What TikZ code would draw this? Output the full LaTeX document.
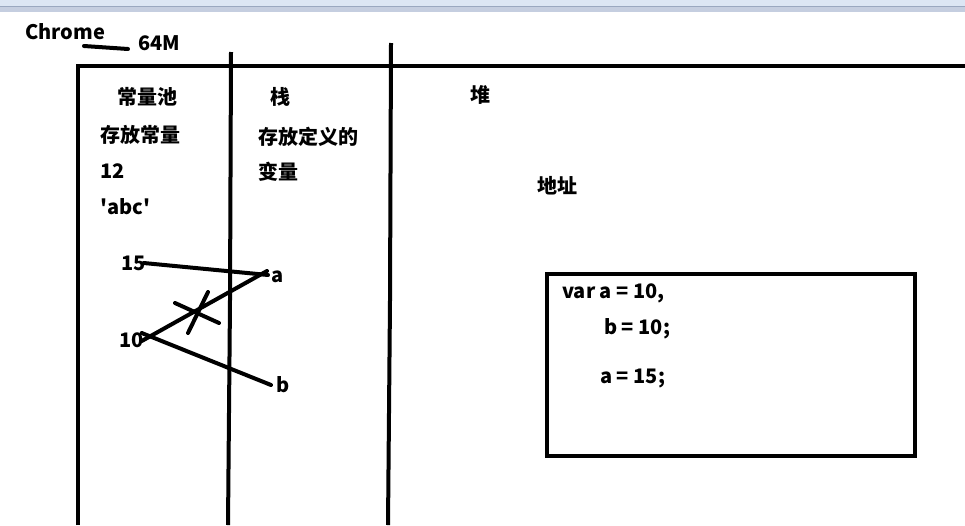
\documentclass[tikz,border=0pt]{standalone}
\usepackage{fontspec}
\setmainfont{Noto Sans CJK SC}[Ligatures=TeXReset]
\definecolor{barblue}{HTML}{DCE6F4}
\definecolor{bargray}{HTML}{C5CEE0}
\definecolor{barline}{HTML}{9AA8C0}

\begin{document}
\begin{tikzpicture}[x=1pt, y=-1pt, line cap=round,
      every node/.style={font=\fontsize{20}{23}\selectfont\bfseries, inner sep=0pt, anchor=west},
      wall/.style={line width=4pt, line cap=butt},
      link/.style={line width=4pt}]

      \useasboundingbox (0,0) rectangle (965,525);
      % window bar
      \fill[barblue] (0,0) rectangle (965,5.5);
      \fill[bargray] (0,6.5) rectangle (965,12);
      \draw[barline, line width=1pt] (0,6) -- (965,6);

      \node (chrome) at (25,32) {Chrome};
      \node (mem) at (138,43) {64M};
      \coordinate (dashL) at (84,46);
      \coordinate (dashR) at (128,49);
      \draw[link] (dashL) -- (dashR);

      % memory frame
      \draw[wall] (78,525) -- (78,66) -- (965,66);
      \draw[wall] (231,52) -- (230,300) -- (228,525);
      \draw[wall] (391,43) -- (390,300) -- (388,525);

      % constant pool
      \node (pool) at (117,97) {常量池};
      \node (pooltxt) at (100,135) {存放常量};
      \node (c12) at (100,171) {12};
      \node (cabc) at (100,207) {'abc'};
      \node (c15) at (121,263) {15};
      \node (c10) at (119,340) {10};

      % stack
      \node (stack) at (270,97) {栈};
      \node (stacktxt) at (258,137) {存放定义的};
      \node (stacktxt2) at (258,172) {变量};
      \node (va) at (271,277) {a};
      \node (vb) at (276,385) {b};

      % heap
      \node (heap) at (470,95) {堆};
      \node (addr) at (537,186) {地址};
      \node[draw, line width=4pt, anchor=north west, minimum width=368pt, minimum height=182pt] (code) at (545,272) {};
      \node (line1) at (562,293) {var a = 10,};
      \node (line2) at (604,329) {b = 10;};
      \node (line3) at (600,379) {a = 15;};

      \draw[link] ([xshift=-2pt]c15.east) -- ([xshift=-3pt,yshift=2pt]va.west);
      \draw[link] ([xshift=-2pt,yshift=-1pt]c10.east) -- ([xshift=-4pt,yshift=6pt]va.west);
      \draw[link] ([xshift=-2pt,yshift=7pt]c10.east) -- ([xshift=-5pt]vb.west);
      % crossed out link
      \coordinate (xa) at (175,303);
      \coordinate (xb) at (219,323);
      \coordinate (xc) at (208,292);
      \coordinate (xd) at (188,333);
      \draw[link] (xa) -- (xb);
      \draw[link] (xc) -- (xd);
    \end{tikzpicture}
\end{document}
